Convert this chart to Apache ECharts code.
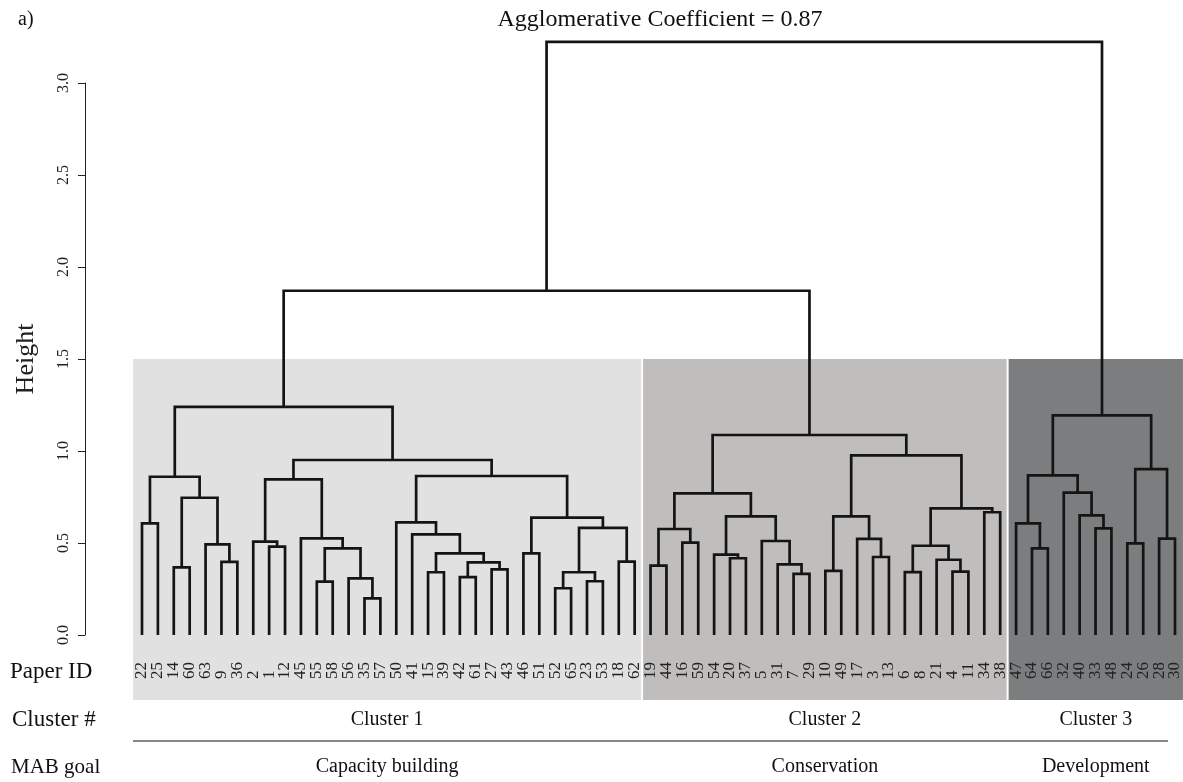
<!DOCTYPE html>
<html><head><meta charset="utf-8">
<script src="https://cdn.jsdelivr.net/npm/echarts@6/dist/echarts.min.js"></script>
<style>html,body{margin:0;padding:0;background:#fff}#c{width:1183px;height:782px}</style>
</head><body><div id="c"></div>
<script>
// Leaf order (Paper IDs, left to right)
const leafOrder = [22,25,14,60,63,9,36,2,1,12,45,55,58,56,35,57,50,41,15,39,42,61,27,43,46,51,52,65,23,53,18,62,
  19,44,16,59,54,20,37,5,31,7,29,10,49,17,3,13,6,8,21,4,11,34,38,
  47,64,66,32,40,33,48,24,26,28,30];

// Merge table (R hclust convention): negative = leaf Paper ID, positive = earlier merge row (1-based); third value = height
const merges = [
  [-22,-25,0.607],[-14,-60,0.368],[-9,-36,0.397],[-63,3,0.493],[2,4,0.746],[1,5,0.860],
  [-1,-12,0.480],[-2,7,0.507],[-55,-58,0.290],[-35,-57,0.199],[-56,10,0.308],[9,11,0.471],
  [-45,12,0.525],[8,13,0.846],[-15,-39,0.341],[-42,-61,0.315],[-27,-43,0.357],[16,17,0.395],
  [15,18,0.444],[-41,19,0.547],[-50,20,0.612],[-46,-51,0.444],[-52,-65,0.254],[-23,-53,0.292],
  [23,24,0.341],[-18,-62,0.399],[25,26,0.582],[22,27,0.638],[21,28,0.864],[14,29,0.951],[6,30,1.240],
  [-19,-44,0.377],[-16,-59,0.502],[32,33,0.576],[-20,-37,0.417],[-54,35,0.437],[-7,-29,0.332],
  [-31,37,0.384],[-5,38,0.511],[36,39,0.645],[34,40,0.770],[-10,-49,0.348],[-3,-13,0.424],
  [-17,43,0.522],[42,44,0.645],[-6,-8,0.342],[-4,-11,0.344],[-21,47,0.409],[46,48,0.485],
  [-34,-38,0.667],[49,50,0.688],[45,51,0.976],[41,52,1.087],
  [-64,-66,0.471],[-47,54,0.607],[-33,-48,0.580],[-40,56,0.650],[-32,57,0.774],[55,58,0.868],
  [-24,-26,0.498],[-28,-30,0.524],[60,61,0.902],[59,62,1.194],
  [31,53,1.871],[64,63,3.223]
];

const clusterNames = ['Cluster 1','Cluster 2','Cluster 3'];
const clusterGoals = ['Capacity building','Conservation','Development'];
const clusterSizes = [32,23,11];
const clusterColors = ['#e1e1e1','#bfbebd','#7c7d7f'];
const shadeTop = 1.5;
const titleText = 'Agglomerative Coefficient = 0.87';

const FONT = "'Liberation Serif','DejaVu Serif',serif";

// build dendrogram geometry in data units
const leafPos = {};
leafOrder.forEach((id, i) => { leafPos[id] = i; });
const nodeX = [], nodeH = [];
const segs = [];
merges.forEach((m, k) => {
  const child = c => c < 0 ? [leafPos[-c], 0] : [nodeX[c-1], nodeH[c-1]];
  const a = child(m[0]), b = child(m[1]);
  nodeX[k] = (a[0] + b[0]) / 2; nodeH[k] = m[2];
  segs.push([a[0], a[1], b[0], b[1], m[2]]);
});
const leafData = leafOrder.map((id, i) => [i, 0, id]);

// cluster shading ranges
const clusterData = [];
let start = 0;
clusterSizes.forEach((n, i) => { clusterData.push([start, start + n - 1, shadeTop]); start += n; });

const chart = echarts.init(document.getElementById('c'));
chart.setOption({
  animation: false,
  backgroundColor: '#fff',
  grid: [
    { left: 142, right: 8, top: 83, bottom: 147 },
    { left: 85, width: 10, top: 83, bottom: 147 }
  ],
  xAxis: [{
    gridIndex: 0, type: 'value', min: 0, max: leafOrder.length - 1, show: false
  }, {
    gridIndex: 1, type: 'value', min: 0, max: 1, show: false
  }],
  yAxis: [{
    gridIndex: 0, type: 'value', min: 0, max: 3, show: false
  }, {
    gridIndex: 1,
    type: 'value', min: 0, max: 3, interval: 0.5,
    name: 'Height', nameLocation: 'middle', nameRotate: 90, nameGap: 46,
    nameTextStyle: { fontFamily: FONT, fontSize: 26, color: '#222' },
    axisLine: { show: true, lineStyle: { color: '#222', width: 1 } },
    axisTick: { show: true, length: 7, lineStyle: { color: '#222' } },
    splitLine: { show: false },
    axisLabel: { rotate: 90, margin: 13, fontFamily: FONT, fontSize: 16, color: '#222',
      formatter: v => v.toFixed(1) }
  }],
  graphic: [
    { type: 'text', left: 18, top: 10, style: { text: 'a)', font: '20px ' + FONT, fill: '#111' } },
    { type: 'text', x: 660, y: 20, style: { text: titleText, font: '24px ' + FONT, fill: '#111', align: 'center', verticalAlign: 'middle', textAlign: 'center', textVerticalAlign: 'middle' } },
    { type: 'text', x: 10, y: 672, style: { text: 'Paper ID', font: '23px ' + FONT, fill: '#111', verticalAlign: 'middle', textVerticalAlign: 'middle' } },
    { type: 'text', x: 12, y: 720, style: { text: 'Cluster #', font: '23px ' + FONT, fill: '#111', verticalAlign: 'middle', textVerticalAlign: 'middle' } },
    { type: 'text', x: 11, y: 767, style: { text: 'MAB goal', font: '21px ' + FONT, fill: '#111', verticalAlign: 'middle', textVerticalAlign: 'middle' } },
    { type: 'line', shape: { x1: 133, y1: 741, x2: 1168, y2: 741 }, style: { stroke: '#111', lineWidth: 1.2 } }
  ],
  series: [
    {
      type: 'custom', clip: false, z: 1, xAxisIndex: 0, yAxisIndex: 0,
      data: clusterData,
      renderItem: (params, api) => {
        const i = params.dataIndex;
        const s = api.value(0), e = api.value(1), top = api.value(2);
        const pL = api.coord([s - 0.5, top]);
        const pR = api.coord([e + 0.5, 0]);
        const x0 = pL[0] + (i > 0 ? 0.5 : -1);
        const x1 = pR[0] - (i < clusterSizes.length - 1 ? 1.5 : 0);
        const y0 = pL[1], y1 = pR[1] + 65;
        const cx = (x0 + x1) / 2;
        return { type: 'group', children: [
          { type: 'rect', shape: { x: x0, y: y0, width: x1 - x0, height: y1 - y0 }, style: { fill: clusterColors[i] } },
          { type: 'text', style: { text: clusterNames[i], x: cx, y: pR[1] + 85, font: '20px ' + FONT, fill: '#111', align: 'center', verticalAlign: 'middle', textAlign: 'center', textVerticalAlign: 'middle' } },
          { type: 'text', style: { text: clusterGoals[i], x: cx, y: pR[1] + 132, font: '20px ' + FONT, fill: '#111', align: 'center', verticalAlign: 'middle', textAlign: 'center', textVerticalAlign: 'middle' } }
        ]};
      }
    },
    {
      type: 'custom', clip: false, z: 4, xAxisIndex: 0, yAxisIndex: 0,
      data: leafData,
      renderItem: (params, api) => {
        const p = api.coord([api.value(0), api.value(1)]);
        return { type: 'text', x: p[0], y: p[1] + 44, rotation: Math.PI / 2,
          style: { text: String(api.value(2)), font: '17px ' + FONT, fill: '#222',
            align: 'left', verticalAlign: 'middle', textAlign: 'left', textVerticalAlign: 'middle' } };
      }
    },
    {
      type: 'custom', clip: false, z: 3, xAxisIndex: 0, yAxisIndex: 0,
      data: segs,
      renderItem: (params, api) => {
        const a0 = api.coord([api.value(0), api.value(1)]);
        const a1 = api.coord([api.value(0), api.value(4)]);
        const b1 = api.coord([api.value(2), api.value(4)]);
        const b0 = api.coord([api.value(2), api.value(3)]);
        return { type: 'polyline', shape: { points: [a0, a1, b1, b0] },
          style: { stroke: '#141414', lineWidth: 2.7, fill: null, lineJoin: 'miter' } };
      }
    }
  ]
});
</script>
</body></html>
